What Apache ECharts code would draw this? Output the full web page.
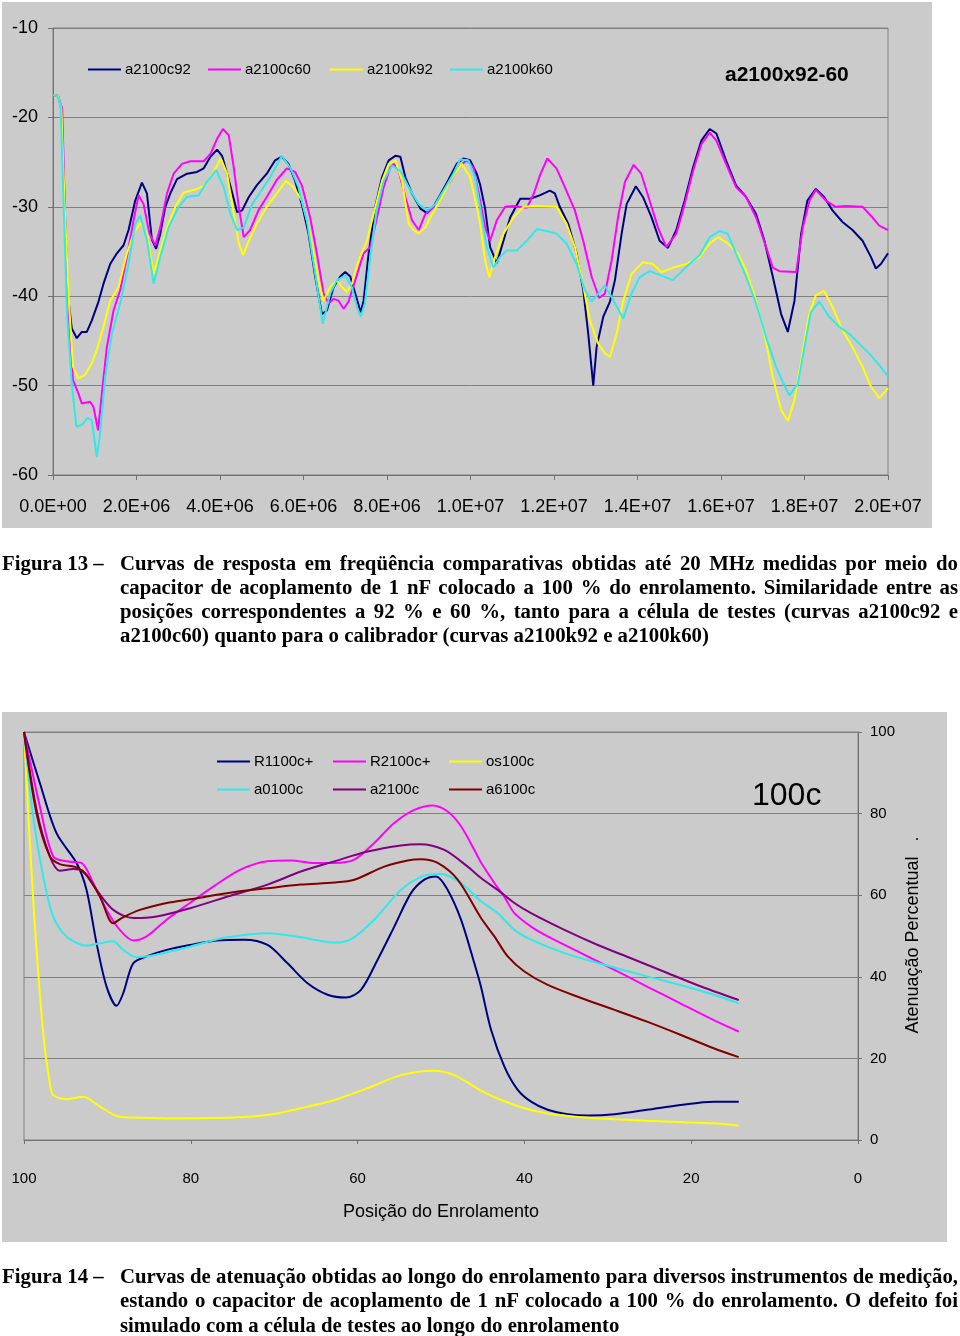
<!DOCTYPE html>
<html>
<head>
<meta charset="utf-8">
<script src="https://cdn.jsdelivr.net/npm/echarts@6/dist/echarts.min.js"></script>
<style>
  html, body { margin: 0; padding: 0; background: #fff; }
  #wrap { position: relative; width: 960px; height: 1336px; }
  #chart { position: absolute; left: 0; top: 0; width: 960px; height: 1336px; }
  .cap { position: absolute; font-family: "Liberation Serif", "Times New Roman", serif; font-weight: bold; font-size: 20.8px; line-height: 24px; color: #000; white-space: nowrap; }
  .lbl { position: absolute; left: 2px; }
  .ln { position: absolute; left: 120px; width: 838px; }
  .j { text-align: justify; text-align-last: justify; }
</style>
</head>
<body>
<div id="wrap">
  <div id="chart"></div>
  <div class="cap" style="left:0;top:551px;width:960px;height:100px;">
    <div class="lbl" style="top:0">Figura 13 –</div>
    <div class="ln j" style="top:0">Curvas de resposta em freqüência comparativas obtidas até 20 MHz medidas por meio do</div>
    <div class="ln j" style="top:24px">capacitor de acoplamento de 1 nF colocado a 100 % do enrolamento. Similaridade entre as</div>
    <div class="ln j" style="top:48px">posições correspondentes a 92 % e 60 %, tanto para a célula de testes (curvas a2100c92 e</div>
    <div class="ln" style="top:72px">a2100c60) quanto para o calibrador (curvas a2100k92 e a2100k60)</div>
  </div>
  <div class="cap" style="left:0;top:1264px;width:960px;height:72px;">
    <div class="lbl" style="top:0">Figura 14 –</div>
    <div class="ln j" style="top:0">Curvas de atenuação obtidas ao longo do enrolamento para diversos instrumentos de medição,</div>
    <div class="ln j" style="top:24px">estando o capacitor de acoplamento de 1 nF colocado a 100 % do enrolamento. O defeito foi</div>
    <div class="ln" style="top:49px">simulado com a célula de testes ao longo do enrolamento</div>
  </div>
</div>
<script>
// ---------- Chart 1 data (x in MHz, y in dB) ----------
const xTickLabels1 = ["0.0E+00","2.0E+06","4.0E+06","6.0E+06","8.0E+06","1.0E+07","1.2E+07","1.4E+07","1.6E+07","1.8E+07","2.0E+07"];
const names1 = ["a2100c92","a2100c60","a2100k92","a2100k60"];
const a2100c92 = [[0,-17.5],[0.12,-17.6],[0.2,-19],[0.28,-30],[0.36,-40],[0.45,-43.6],[0.57,-44.7],[0.69,-44],[0.81,-44],[0.93,-42.7],[1.09,-40.6],[1.21,-38.6],[1.37,-36.4],[1.53,-35.2],[1.69,-34.3],[1.81,-32.6],[1.97,-29.3],[2.13,-27.3],[2.25,-28.5],[2.37,-33.7],[2.47,-34.7],[2.57,-33],[2.69,-30],[2.81,-28.5],[2.97,-26.9],[3.21,-26.3],[3.45,-26.1],[3.61,-25.7],[3.77,-24.4],[3.93,-23.6],[4.05,-24.3],[4.17,-26.3],[4.29,-28.4],[4.41,-30.6],[4.53,-30.4],[4.69,-28.9],[4.88,-27.6],[5.12,-26.3],[5.32,-24.8],[5.48,-24.4],[5.64,-25.2],[5.8,-27.1],[5.96,-29.7],[6.12,-33],[6.28,-37.8],[6.44,-42],[6.56,-41.6],[6.72,-39],[6.88,-37.8],[7.0,-37.3],[7.12,-37.8],[7.24,-39.7],[7.37,-41.8],[7.44,-40.5],[7.56,-35.2],[7.72,-30],[7.88,-26.7],[8.04,-24.8],[8.2,-24.3],[8.32,-24.4],[8.44,-26.7],[8.6,-28.5],[8.8,-30.2],[8.96,-30.7],[9.11,-30],[9.27,-28.7],[9.47,-27],[9.67,-25.2],[9.83,-24.6],[9.99,-24.8],[10.15,-26.3],[10.23,-27.5],[10.35,-30.2],[10.47,-34.5],[10.63,-36.3],[10.79,-33.8],[10.95,-31.2],[11.19,-29.1],[11.43,-29.1],[11.67,-28.7],[11.9,-28.2],[12.02,-28.5],[12.14,-30],[12.34,-31.9],[12.54,-35.2],[12.7,-39.3],[12.82,-44.2],[12.94,-50],[13.02,-45.7],[13.18,-42.3],[13.34,-40.6],[13.46,-38.2],[13.62,-33],[13.74,-29.7],[13.96,-27.7],[14.13,-28.9],[14.33,-31.1],[14.53,-33.8],[14.73,-34.6],[14.93,-32.6],[15.13,-29.3],[15.33,-25.6],[15.53,-22.6],[15.73,-21.3],[15.89,-21.8],[16.12,-24.8],[16.36,-27.6],[16.6,-28.9],[16.84,-30.8],[17.04,-33.8],[17.24,-37.8],[17.44,-42],[17.6,-44],[17.76,-40.5],[17.92,-33],[18.07,-29.3],[18.27,-28],[18.47,-28.9],[18.67,-30.4],[18.91,-31.7],[19.15,-32.6],[19.39,-33.8],[19.59,-35.6],[19.71,-36.9],[19.83,-36.4],[20,-35.2]];
const a2100c60 = [[0,-17.5],[0.12,-17.6],[0.22,-19],[0.3,-33],[0.4,-45],[0.48,-49.4],[0.61,-50.9],[0.69,-52],[0.89,-51.8],[0.97,-52.4],[1.08,-55],[1.17,-50.9],[1.29,-45.7],[1.45,-41.6],[1.61,-39.3],[1.77,-35.6],[1.93,-31.5],[2.05,-28.7],[2.17,-29.7],[2.31,-33],[2.45,-34.3],[2.57,-32.3],[2.73,-28.5],[2.89,-26.3],[3.09,-25.2],[3.29,-24.9],[3.61,-24.9],[3.77,-24.1],[3.93,-22.4],[4.07,-21.3],[4.21,-22],[4.33,-25.6],[4.45,-30],[4.57,-33.4],[4.72,-32.6],[4.92,-30.4],[5.12,-28.9],[5.36,-27],[5.6,-25.7],[5.8,-26.1],[5.96,-27.6],[6.16,-31.2],[6.32,-35.2],[6.48,-39.7],[6.6,-40.8],[6.72,-40.3],[6.84,-40.5],[6.96,-41.4],[7.08,-40.6],[7.24,-38.2],[7.44,-35.2],[7.6,-34.5],[7.76,-31.2],[7.92,-27.8],[8.08,-25.6],[8.16,-25.2],[8.28,-26],[8.44,-28.9],[8.6,-31.5],[8.76,-32.6],[8.92,-30.8],[9.08,-30.2],[9.27,-28.9],[9.51,-27.2],[9.75,-25.4],[9.91,-24.8],[10.07,-25.6],[10.23,-29.3],[10.35,-32.3],[10.47,-33.8],[10.63,-31.5],[10.83,-30],[11.03,-29.9],[11.35,-30.1],[11.51,-28.6],[11.67,-26.4],[11.84,-24.6],[12.06,-25.7],[12.26,-27.8],[12.5,-30.4],[12.7,-33.8],[12.9,-37.8],[13.08,-40.2],[13.22,-39.7],[13.38,-36],[13.54,-31],[13.7,-27.2],[13.91,-25.3],[14.09,-26.3],[14.29,-29.3],[14.49,-32.3],[14.69,-34.5],[14.93,-33],[15.13,-29.7],[15.33,-26],[15.53,-23],[15.73,-21.7],[15.89,-22.6],[16.12,-25.2],[16.36,-27.8],[16.6,-28.9],[16.84,-31.2],[17.08,-34.5],[17.24,-36.8],[17.4,-37.2],[17.8,-37.3],[17.96,-32.3],[18.12,-29.3],[18.27,-28.1],[18.51,-29.3],[18.75,-30],[18.99,-29.9],[19.39,-30],[19.63,-31.2],[19.79,-32.1],[20,-32.6]];
const a2100k92 = [[0,-17.5],[0.12,-17.6],[0.2,-19],[0.28,-30],[0.38,-40.5],[0.48,-47.9],[0.61,-49.2],[0.77,-48.8],[0.93,-47.5],[1.05,-46],[1.21,-43.4],[1.37,-40.5],[1.57,-39],[1.77,-35.2],[1.93,-33],[2.09,-31.8],[2.25,-33],[2.41,-37.5],[2.57,-34.9],[2.73,-32.3],[2.93,-30],[3.13,-28.4],[3.45,-28],[3.65,-27.6],[3.85,-26.1],[4.02,-24.6],[4.17,-26.3],[4.33,-30.8],[4.45,-34.1],[4.55,-35.4],[4.69,-33.8],[4.88,-31.9],[5.12,-30],[5.36,-28.5],[5.58,-27.1],[5.76,-27.8],[5.96,-29.3],[6.16,-33],[6.36,-38.2],[6.48,-40.5],[6.64,-39],[6.8,-38.2],[6.92,-39],[7.04,-39.5],[7.16,-38.6],[7.32,-36],[7.52,-33.8],[7.68,-30.8],[7.88,-27.1],[8.04,-25.2],[8.2,-24.8],[8.36,-27.1],[8.52,-31.9],[8.64,-32.6],[8.76,-33],[8.92,-32.3],[9.04,-31.2],[9.27,-29.3],[9.51,-27.1],[9.79,-25.2],[9.99,-26.7],[10.15,-30],[10.23,-31.9],[10.35,-36],[10.45,-37.9],[10.59,-35.6],[10.79,-33],[11.03,-31.2],[11.27,-30],[11.51,-29.9],[12.06,-30],[12.3,-31.9],[12.5,-34.5],[12.66,-37.9],[12.86,-42.7],[13.06,-45.3],[13.22,-46.4],[13.34,-46.8],[13.5,-44.2],[13.66,-40.5],[13.86,-37.5],[14.13,-36.2],[14.37,-36.4],[14.57,-37.3],[14.85,-36.8],[15.17,-36.4],[15.49,-35.6],[15.73,-34.1],[15.93,-33.4],[16.16,-34.1],[16.4,-35.2],[16.6,-37.1],[16.84,-40.5],[17.04,-44.2],[17.24,-49],[17.44,-52.7],[17.6,-54],[17.76,-51.6],[17.92,-47.2],[18.11,-42],[18.27,-39.9],[18.47,-39.4],[18.67,-41.2],[18.91,-43.8],[19.15,-45.7],[19.39,-47.9],[19.59,-50.1],[19.79,-51.4],[20,-50.3]];
const a2100k60 = [[0,-17.5],[0.1,-17.6],[0.18,-18.5],[0.27,-32],[0.34,-42.3],[0.45,-49.8],[0.56,-54.6],[0.69,-54.4],[0.83,-53.6],[0.93,-53.9],[1.05,-58],[1.13,-55.3],[1.25,-49],[1.41,-44.2],[1.61,-40.8],[1.81,-36.4],[1.97,-31.9],[2.09,-31],[2.25,-33.7],[2.41,-38.6],[2.57,-35.6],[2.77,-32.3],[3.01,-30],[3.21,-28.9],[3.49,-28.7],[3.69,-27.2],[3.91,-25.9],[4.09,-27.8],[4.25,-30.8],[4.41,-32.6],[4.57,-32.3],[4.77,-29.7],[4.96,-28.4],[5.2,-26.7],[5.48,-24.3],[5.68,-25.6],[5.88,-27.8],[6.08,-31.5],[6.28,-37.5],[6.46,-43.1],[6.64,-39.7],[6.8,-38.2],[7.0,-37.7],[7.16,-39],[7.28,-41.2],[7.37,-42.3],[7.47,-40.8],[7.59,-36],[7.75,-30.4],[7.92,-27.1],[8.12,-25.4],[8.32,-26],[8.52,-27.8],[8.76,-29.7],[8.96,-30.4],[9.16,-29.7],[9.35,-28.2],[9.59,-26.3],[9.75,-24.7],[9.95,-24.8],[10.11,-26.7],[10.23,-30],[10.39,-34.5],[10.55,-36.8],[10.71,-35.6],[10.87,-34.9],[11.11,-34.9],[11.35,-33.8],[11.59,-32.5],[11.82,-32.7],[12.06,-33],[12.3,-34.1],[12.54,-36.4],[12.74,-39.3],[12.9,-40.6],[13.06,-39.7],[13.22,-38.8],[13.38,-40.1],[13.66,-42.5],[13.86,-39.7],[14.05,-37.9],[14.29,-37.2],[14.57,-37.7],[14.85,-38.2],[15.17,-36.7],[15.49,-35.4],[15.73,-33.4],[15.97,-32.7],[16.16,-33],[16.36,-35.2],[16.6,-37.8],[16.84,-40.8],[17.08,-44.6],[17.32,-47.9],[17.52,-50],[17.64,-51.1],[17.84,-49.8],[18.0,-45.7],[18.15,-41.8],[18.35,-40.6],[18.59,-42.3],[18.83,-43.4],[19.07,-44.2],[19.31,-45.3],[19.55,-46.4],[19.79,-47.7],[20,-49]];

// ---------- Chart 2 data (x = posição %, y = atenuação %) ----------
const names2 = ["R1100c+","R2100c+","os100c","a0100c","a2100c","a6100c"];
const R1100c = [[100,100],[98.1,87.5],[96.1,75.2],[93.7,67.9],[92.5,61.3],[91.3,48.2],[90.1,37.6],[88.9,32.9],[88.1,36],[86.9,43.3],[85.3,45],[82.9,46.6],[80.1,47.8],[76.9,48.9],[73.6,49.1],[70.8,47.8],[68.4,43.3],[66,38.4],[63.6,35.6],[61.4,34.9],[59.6,36.8],[57.6,44.2],[55.6,52.3],[53.6,60.5],[52,63.8],[50.6,64.6],[49.2,61.3],[47.6,54],[46,43.3],[45.2,37.5],[44,27],[42.4,18],[40.8,12.3],[39.2,9.4],[37.2,7.4],[34.8,6.3],[32.4,6],[29.2,6.3],[25.3,7.4],[21.3,8.6],[17.3,9.4],[14.3,9.4]];
const R2100c = [[100,100],[98.1,81.8],[96.5,69.5],[94.9,68.3],[93.1,67.9],[91.7,63],[90.1,56.4],[88.5,51.5],[86.9,48.9],[85.3,49.9],[82.9,54],[80.1,58.1],[77.3,62.1],[74.1,66.2],[70.8,68.3],[68,68.5],[65.2,67.9],[62.8,67.9],[60.4,68.7],[58,72.8],[55.6,77.7],[53.2,80.9],[51,82],[49.2,80.5],[47.6,76.9],[46,71.1],[45.2,68],[43.6,63],[42.4,59.6],[41.2,55.6],[39.2,52.3],[37.2,49.9],[33.2,45.8],[29.2,41.7],[25.3,37.6],[21.3,33.5],[17.3,29.4],[14.3,26.6]];
const os100c = [[100,100],[98.9,58.9],[97.7,26.2],[96.9,13.9],[96.5,11],[94.9,10],[92.9,10.6],[90.9,8.2],[88.9,5.9],[86.9,5.5],[82.9,5.3],[74.9,5.5],[70.8,6.1],[66.8,7.8],[62.8,9.8],[58.8,12.7],[54.8,15.9],[50.8,17],[48.4,15.9],[45.2,12.1],[42.8,9.8],[40,7.8],[37.2,6.5],[33.2,5.6],[29.2,5.1],[25.3,4.7],[21.3,4.4],[17.3,4.1],[14.3,3.5]];
const a0100c = [[100,100],[98.9,79.3],[97.7,64.6],[96.5,54.8],[94.9,49.9],[92.5,47.6],[90.9,48.2],[89.3,48.7],[88.1,46.6],[86.5,44.8],[84.1,45.4],[80.1,47.4],[76.1,49.5],[70.8,50.7],[66.8,49.7],[62.8,48.4],[60.8,49.2],[58,54],[54.8,61.3],[52,64.8],[50,65.2],[47.6,63],[45.2,58.5],[43.2,55.6],[41.2,51.5],[39.2,49.1],[35.2,45.8],[31.2,43.4],[25.3,40.1],[21.3,38],[17.3,35.6],[14.3,33.5]];
const a2100c = [[100,100],[98.5,81],[96.9,69.5],[95.7,66],[94.1,66.4],[92.9,65.8],[91.3,61.3],[89.3,56.4],[86.9,54.4],[84.1,54.8],[80.1,56.8],[74.9,60.1],[70.8,62.6],[66.8,65.8],[62.8,68.3],[58.8,70.7],[54.8,72.2],[52.5,72.5],[49.6,71.1],[46.8,67],[45.2,64.2],[43.2,61.3],[41.2,58.1],[39.2,55.6],[35.2,51.5],[31.2,47.8],[27.3,44.6],[23.3,41.3],[19.3,38],[14.3,34.3]];
const a6100c = [[100,100],[98.5,80.1],[96.9,69.5],[95.7,67.6],[93.7,66.8],[92.5,65],[90.9,59.7],[89.3,53.1],[88.3,54.4],[86.1,56.4],[82.9,58.1],[80.1,59],[74.9,60.7],[70.8,61.7],[66.8,62.6],[62.8,63.1],[60.4,63.8],[56.8,67],[54,68.5],[52.4,68.8],[50.4,67.9],[48,63.8],[45.2,54.4],[43.6,49.9],[42,45],[40,41.3],[37.2,38],[33.2,34.8],[29.2,31.9],[25.3,29],[21.3,25.8],[17.3,22.5],[14.3,20.3]];

const colors1 = ["#000080","#FF00FF","#FFFF00","#33E8E8"];
const colors2 = ["#000080","#FF00FF","#FFFF00","#33E8E8","#800080","#800000"];
const data1 = [a2100c92, a2100c60, a2100k92, a2100k60];
const data2 = [R1100c, R2100c, os100c, a0100c, a2100c, a6100c];

const FONT = "'Liberation Sans', Arial, sans-serif";
const GRIDC = "#808080";

const legends = [];
const leg1X = [88, 208, 330, 450];
names1.forEach((n, i) => legends.push({
  data: [n], left: leg1X[i], top: 62, padding: 0, itemGap: 0, selectedMode: false,
  icon: 'rect', itemWidth: 33, itemHeight: 2,
  textStyle: { fontSize: 15, color: '#000', fontFamily: FONT, padding: [0, 0, 0, -1] }
}));
const leg2X = [217, 333, 449, 217, 333, 449];
const leg2Y = [754, 754, 754, 782, 782, 782];
names2.forEach((n, i) => legends.push({
  data: [n], left: leg2X[i], top: leg2Y[i], padding: 0, itemGap: 0, selectedMode: false,
  icon: 'rect', itemWidth: 33, itemHeight: 2,
  textStyle: { fontSize: 15, color: '#000', fontFamily: FONT, padding: [0, 0, 0, -1] }
}));

const series = [];
names1.forEach((n, i) => series.push({
  name: n, type: 'line', xAxisIndex: 0, yAxisIndex: 0, data: data1[i],
  showSymbol: false, symbol: 'none', color: colors1[i],
  lineStyle: { width: 2, color: colors1[i] }, z: 3 + i
}));
names2.forEach((n, i) => series.push({
  name: n, type: 'line', xAxisIndex: 1, yAxisIndex: 1, data: data2[i],
  showSymbol: false, symbol: 'none', color: colors2[i], smooth: 0.3,
  lineStyle: { width: 2, color: colors2[i] }, z: 3 + i
}));

const chart = echarts.init(document.getElementById('chart'), null, { renderer: 'canvas' });
chart.setOption({
  animation: false,
  backgroundColor: '#ffffff',
  textStyle: { fontFamily: FONT },
  graphic: [
    { type: 'rect', z: -10, shape: { x: 2, y: 2, width: 930, height: 526 }, style: { fill: '#cbcbcb' } },
    { type: 'rect', z: -10, shape: { x: 2, y: 712, width: 945, height: 530 }, style: { fill: '#cbcbcb' } },
    { type: 'text', x: 725, y: 75, style: { text: 'a2100x92-60', font: "bold 21px " + FONT, fill: '#000', textVerticalAlign: 'middle' } },
    { type: 'text', x: 752, y: 796, style: { text: '100c', font: "32px " + FONT, fill: '#000', textVerticalAlign: 'middle' } },
    { type: 'text', x: 441, y: 1212, style: { text: 'Posição do Enrolamento', font: "18px " + FONT, fill: '#000', textAlign: 'center', textVerticalAlign: 'middle' } },
    { type: 'text', x: 913, y: 935, rotation: Math.PI / 2, style: { text: 'Atenuação Percentual   .', font: "18px " + FONT, fill: '#000', textAlign: 'center', textVerticalAlign: 'middle' } }
  ],
  legend: legends,
  grid: [
    { left: 53, top: 28, width: 835, height: 447, show: true, borderColor: GRIDC, borderWidth: 1, backgroundColor: 'transparent' },
    { left: 24, top: 732, width: 834, height: 408, show: true, borderColor: GRIDC, borderWidth: 1, backgroundColor: 'transparent' }
  ],
  xAxis: [
    { gridIndex: 0, type: 'value', min: 0, max: 20, interval: 2,
      axisLine: { lineStyle: { color: '#707070' } },
      axisTick: { length: 5, lineStyle: { color: '#707070' } },
      axisLabel: { fontSize: 18, color: '#000', margin: 23, formatter: v => xTickLabels1[Math.round(v / 2)] },
      splitLine: { show: false } },
    { gridIndex: 1, type: 'value', min: 0, max: 100, interval: 20, inverse: true,
      axisLine: { lineStyle: { color: '#707070' } },
      axisTick: { length: 4, lineStyle: { color: '#707070' } },
      axisLabel: { fontSize: 15, color: '#000', margin: 31 },
      splitLine: { show: false } }
  ],
  yAxis: [
    { gridIndex: 0, type: 'value', min: -60, max: -10, interval: 10,
      axisLine: { show: true, lineStyle: { color: '#707070' } },
      axisTick: { show: true, length: 5, lineStyle: { color: '#707070' } },
      axisLabel: { fontSize: 18, color: '#000', margin: 15 },
      splitLine: { show: true, lineStyle: { color: GRIDC, width: 1 } } },
    { gridIndex: 1, type: 'value', min: 0, max: 100, interval: 20, position: 'right',
      axisLine: { show: true, lineStyle: { color: '#707070' } },
      axisTick: { show: true, length: 4, lineStyle: { color: '#707070' } },
      axisLabel: { fontSize: 15, color: '#000', margin: 12, verticalAlign: 'middle', padding: [4, 0, 0, 0] },
      splitLine: { show: true, lineStyle: { color: GRIDC, width: 1 } } }
  ],
  series: series
});
</script>
</body>
</html>
